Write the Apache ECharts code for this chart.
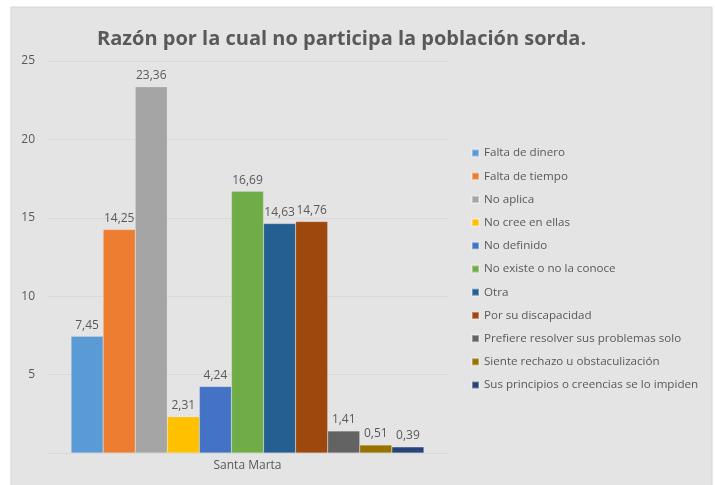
<!DOCTYPE html>
<html>
<head>
<meta charset="utf-8">
<script src="https://cdn.jsdelivr.net/npm/echarts@6/dist/echarts.min.js"></script>
<style>
  html, body { margin: 0; padding: 0; background: #fff; }
  #chart { width: 715px; height: 485px; }
</style>
</head>
<body>
<div id="chart"></div>
<script>
const categories = ['Santa Marta']
const seriesNames = [
  'Falta de dinero',
  'Falta de tiempo',
  'No aplica',
  'No cree en ellas',
  'No definido',
  'No existe o no la conoce',
  'Otra',
  'Por su discapacidad',
  'Prefiere resolver sus problemas solo',
  'Siente rechazo u obstaculización',
  'Sus principios o creencias se lo impiden',
]
const seriesValues = [7.45, 14.25, 23.36, 2.31, 4.24, 16.69, 14.63, 14.76, 1.41, 0.51, 0.39]
const colors = [
  '#5B9BD5', '#ED7D31', '#A5A5A5', '#FFC000', '#4472C4', '#70AD47',
  '#255E91', '#9E480E', '#636363', '#997300', '#264478',
]

const font = 'Open Sans'
const textColor = '#595959'

const chart = echarts.init(document.getElementById('chart'))

const series = seriesNames.map((name, i) => ({
  name: name,
  type: 'bar',
  data: [seriesValues[i]],
  barGap: 0,
  barCategoryGap: '12%',
  itemStyle: { color: colors[i], borderColor: 'rgba(255,255,255,0.35)', borderWidth: 0.5 },
  label: {
    show: true,
    position: 'top',
    distance: 5,
    color: textColor,
    fontFamily: font,
    fontSize: 12,
    formatter: (p) => p.value.toFixed(2).replace('.', ','),
  },
}))

chart.setOption({
  animation: false,
  color: colors,
  graphic: [
    {
      type: 'rect',
      z: -10,
      shape: { x: 11, y: 7, width: 701, height: 480 },
      style: { fill: '#e4e4e4', stroke: '#d6d6d6', lineWidth: 1 },
    },
  ],
  title: {
    text: 'Razón por la cual no participa la población sorda.',
    left: 92,
    top: 24,
    textStyle: { color: textColor, fontFamily: font, fontWeight: 'bold', fontSize: 20 },
  },
  legend: {
    orient: 'vertical',
    left: 466,
    top: 141,
    itemWidth: 7,
    itemHeight: 7,
    itemGap: 9.2,
    icon: 'rect',
    textStyle: { color: textColor, fontFamily: font, fontSize: 11.6, lineHeight: 14 },
    data: seriesNames,
  },
  grid: { left: 47, right: 267, top: 61, bottom: 32 },
  xAxis: {
    type: 'category',
    data: categories,
    axisTick: { show: false },
    axisLine: { lineStyle: { color: '#d9d9d9' } },
    axisLabel: { color: textColor, fontFamily: font, fontSize: 12, margin: 7 },
  },
  yAxis: {
    type: 'value',
    min: 0,
    max: 25,
    interval: 5,
    axisLine: { show: false },
    axisTick: { show: false },
    splitLine: { lineStyle: { color: '#d9d9d9' } },
    axisLabel: {
      color: textColor,
      fontFamily: font,
      fontSize: 12,
      margin: 12,
      formatter: (v) => (v === 0 ? '' : v),
    },
  },
  series: series,
})
</script>
</body>
</html>
